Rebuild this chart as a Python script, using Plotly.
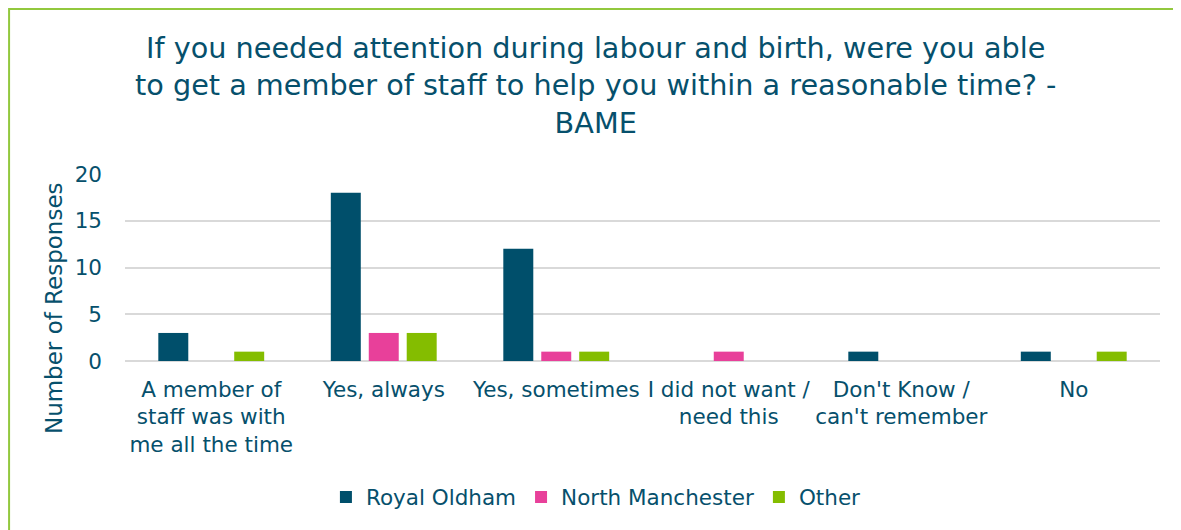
"""Labour and birth: staff attention within a reasonable time, BAME responses."""

import plotly.graph_objects as go

CATEGORIES = [
    "A member of<br>staff was with<br>me all the time",
    "Yes, always",
    "Yes, sometimes",
    "I did not want /<br>need this",
    "Don't Know /<br>can't remember",
    "No",
]
ROYAL_OLDHAM = [3, 18, 12, 0, 1, 1]
NORTH_MANCHESTER = [0, 3, 1, 1, 0, 0]
OTHER = [1, 3, 1, 0, 0, 1]
Y_TICKS = [0, 5, 10, 15, 20]

TEXT = "#06506C"
FONT = "DejaVu Sans"
SERIES = [
    ("Royal Oldham", ROYAL_OLDHAM, "#004F6B"),
    ("North Manchester", NORTH_MANCHESTER, "#E8409A"),
    ("Other", OTHER, "#84BD00"),
]

fig = go.Figure()
for name, values, color in SERIES:
    fig.add_trace(
        go.Bar(
            name=name,
            x=CATEGORIES,
            y=values,
            marker={"color": color, "line": {"width": 0}},
            hovertemplate="%{x}: %{y}<extra>" + name + "</extra>",
        )
    )

fig.update_layout(
    width=1181,
    height=530,
    # the page body adds 8px, so margins are 8px short of the target positions
    margin={"l": 117, "r": 29, "t": 166, "b": 177},
    paper_bgcolor="white",
    plot_bgcolor="white",
    font={"family": FONT, "color": TEXT, "size": 21.5},
    barmode="group",
    bargap=0.34,
    bargroupgap=0.21,
    showlegend=True,
    legend={
        "orientation": "h",
        "x": 0.455,
        "xanchor": "center",
        "y": -0.727,
        "yanchor": "middle",
        "font": {"size": 21.5, "color": TEXT},
        "itemwidth": 30,
    },
    xaxis={
        "showgrid": False,
        "showline": False,
        "ticks": "",
        "tickfont": {"size": 21.5, "color": TEXT},
        "ticklabelstandoff": 13,
    },
    yaxis={
        "range": [0, 20],
        "tickvals": Y_TICKS,
        "showgrid": True,
        "gridcolor": "#D9D9D9",
        "gridwidth": 2,
        "zeroline": True,
        "zerolinecolor": "#D9D9D9",
        "zerolinewidth": 2,
        "showline": False,
        "ticks": "",
        "tickfont": {"size": 21.5, "color": TEXT},
        "ticklabelstandoff": 22,
    },
    annotations=[
        {
            "text": "If you needed attention during labour and birth, were you able<br>"
            "to get a member of staff to help you within a reasonable time? -<br>"
            "BAME",
            "xref": "paper",
            "yref": "paper",
            "x": 0.455,
            "y": 1.471,
            "xanchor": "center",
            "yanchor": "middle",
            "showarrow": False,
            "font": {"size": 28.7, "color": TEXT, "family": FONT},
        },
        {
            "text": "Number of Responses",
            "xref": "paper",
            "yref": "paper",
            "x": -0.0686,
            "y": 0.283,
            "xanchor": "center",
            "yanchor": "middle",
            "textangle": -90,
            "showarrow": False,
            "font": {"size": 23, "color": TEXT, "family": FONT},
        },
    ],
    shapes=[
        {
            "type": "rect",
            "xref": "paper",
            "yref": "paper",
            "x0": -0.112,
            "x1": 1.05,
            "y0": -1.1,
            "y1": 1.882,
            "line": {"color": "#92C83E", "width": 2},
            "fillcolor": "rgba(0,0,0,0)",
            "layer": "below",
        }
    ],
)

fig.write_html("out.html")
